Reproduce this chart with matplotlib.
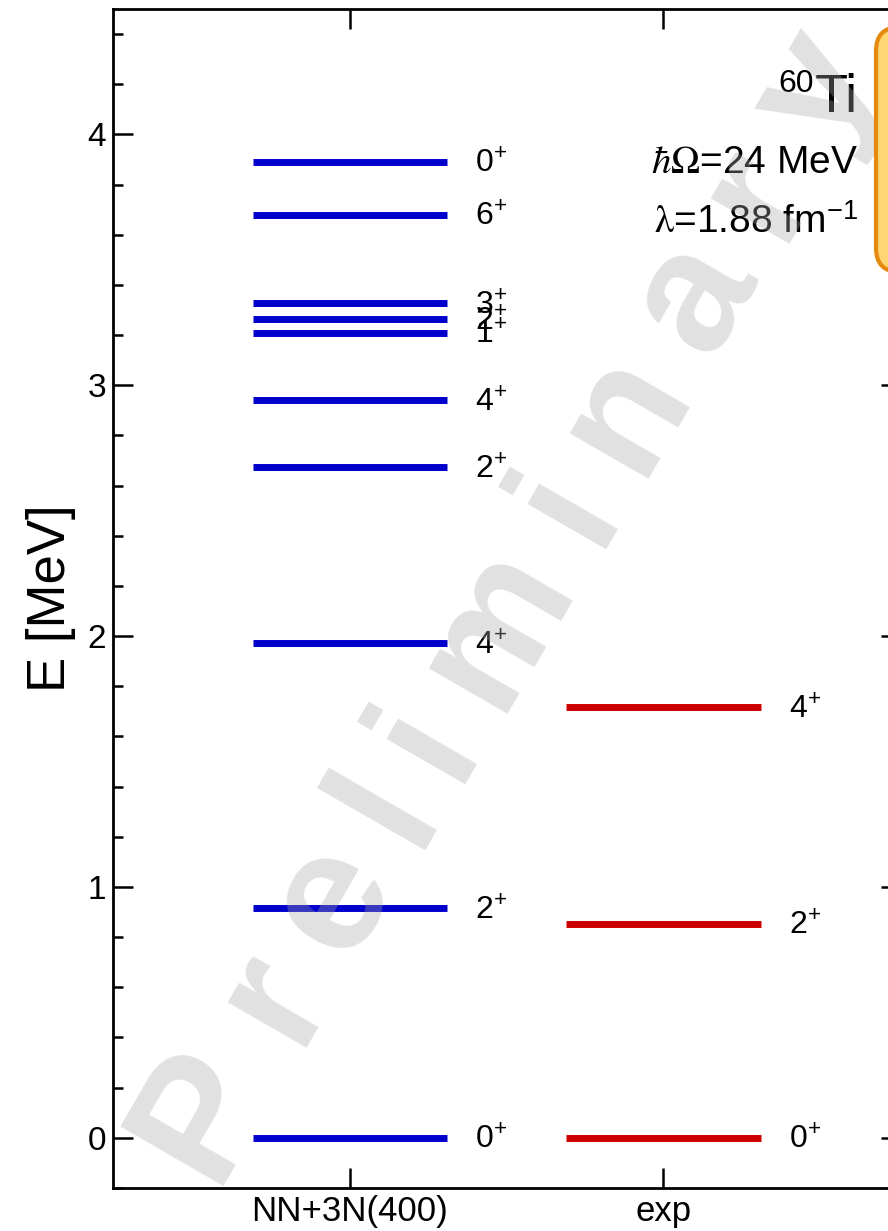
import numpy as np
import matplotlib
matplotlib.use("Agg")
import matplotlib.pyplot as plt
from matplotlib.ticker import MultipleLocator
from matplotlib.patches import FancyBboxPatch
from matplotlib.transforms import IdentityTransform

plt.rcParams['font.family'] = ['Liberation Sans', 'DejaVu Sans']

# Level energies (MeV) and spins, positive parity
calc_energies = [0.0, 0.915, 1.971, 2.674, 2.941, 3.210, 3.264, 3.327, 3.679, 3.892]
calc_spins = ['0', '2', '4', '2', '4', '1', '2', '3', '6', '0']
exp_energies = [0.0, 0.854, 1.716]
exp_spins = ['0', '2', '4']
columns = ['NN+3N(400)', 'exp']

W, H = 888, 1231
fig = plt.figure(figsize=(W / 100, H / 100), dpi=100)
# right part of the frame runs past the edge of the canvas
ax = fig.add_axes([113 / W, (H - 1188) / H, (901 - 113) / W, (1188 - 9) / H])

half = 0.31
for xc, energies, spins, col in [(1, calc_energies, calc_spins, '#0000cc'),
                                 (2, exp_energies, exp_spins, '#cc0000')]:
    ax.hlines(energies, xc - half, xc + half, colors=col, lw=5, zorder=3)
    for e, j in zip(energies, spins):
        ax.annotate(j + r'$^{\mathregular{+}}$', xy=(xc + 0.40, e), xytext=(0, -8),
                    textcoords='offset points', fontsize=23, ha='left', va='baseline')

ax.set_xlim(0.244, 2.758)
ax.set_ylim(-0.2, 4.5)
ax.set_xticks([1, 2])
ax.set_xticklabels(columns, fontsize=25)
ax.set_yticks([0, 1, 2, 3, 4])
ax.yaxis.set_minor_locator(MultipleLocator(0.2))
ax.tick_params(axis='y', labelsize=24)
ax.tick_params(which='both', direction='in', top=True, right=True, width=1.8)
ax.tick_params(which='major', length=14.4, pad=5)
ax.tick_params(which='minor', length=7.2)
for sp in ax.spines.values():
    sp.set_linewidth(2.0)
ax.set_ylabel('E [MeV]', fontsize=38, labelpad=8)

# nucleus and parameters
ti = ax.text(0.9454, 0.9126, 'Ti', transform=ax.transAxes, fontsize=39,
             ha='right', va='baseline')
ax.annotate('60', xy=(0, 1), xycoords=ti, xytext=(-1, 3), textcoords='offset points',
            fontsize=23, ha='right', va='top')
ax.text(0.9454, 0.8609, r'$\hbar\Omega$=24 MeV', transform=ax.transAxes,
        fontsize=28, ha='right', va='baseline', math_fontfamily='stix')
ax.text(0.9454, 0.810, r'$\mathrm{\lambda}$=1.88 fm$^{\mathregular{-1}}$',
        transform=ax.transAxes, fontsize=28, ha='right', va='baseline',
        math_fontfamily='stix')

# rounded box at the right edge
box = FancyBboxPatch((876, H - 272), 140, 245, boxstyle='round,pad=0,rounding_size=24',
                     facecolor='#ffd672', edgecolor='#e5890f', lw=3,
                     transform=IdentityTransform(), zorder=20)
fig.add_artist(box)

# spaced-out watermark, one glyph at a time along a slanted baseline
wm_text = 'Preliminary'
wm_steps = [-850, -713, -598, -492, -414, -280, -140, -30, 105, 225, 345]
ang = np.deg2rad(59)
u = np.array([np.cos(ang), -np.sin(ang)])
v = np.array([-np.sin(ang), -np.cos(ang)])
for ch, s in zip(wm_text, wm_steps):
    px, py = s * u - 792 * v
    fig.text(px / W, 1 - py / H, ch, fontsize=124, fontweight='bold', color='#a8a8a8',
             alpha=0.34, rotation=60, rotation_mode='anchor', ha='center',
             va='baseline', zorder=10)

fig.savefig('out.png', dpi=100)
